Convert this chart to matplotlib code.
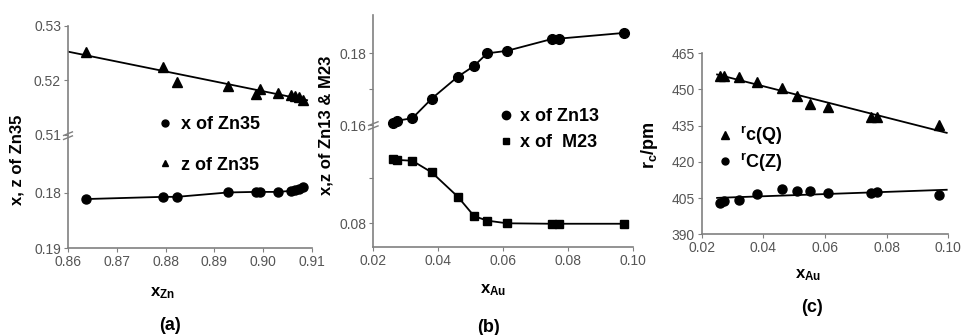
#
# Zn-Au structure parameters vs composition: three panels (a), (b), (c)
#
import numpy as np
import matplotlib
matplotlib.use('Agg')
import matplotlib.pyplot as plt
from matplotlib.lines import Line2D

# ---- data ----
# panel (a)
x_zn = [0.8637, 0.8795, 0.8823, 0.8928, 0.8985, 0.8993, 0.9031, 0.9058, 0.9065, 0.9073, 0.9082]
x_zn35 = [0.1789, 0.1793, 0.1793, 0.1801, 0.1802, 0.1802, 0.1802, 0.1804, 0.1805, 0.1807, 0.1811]
z_zn35 = [0.5252, 0.5224, 0.5198, 0.5190, 0.5176, 0.5184, 0.5177, 0.5173, 0.5171, 0.5169, 0.5165]

# panels (b) and (c)
x_au = [0.0260, 0.0272, 0.0320, 0.0380, 0.0460, 0.0510, 0.0550, 0.0611, 0.0749, 0.0770, 0.0971]
x_zn13 = [0.1605, 0.1612, 0.1619, 0.1674, 0.1735, 0.1765, 0.1800, 0.1807, 0.1840, 0.1841, 0.1857]
x_m23 = [0.0944, 0.0941, 0.0939, 0.0913, 0.0859, 0.0816, 0.0806, 0.0800, 0.0799, 0.0799, 0.0799]
rc_q = [455.6, 455.6, 455.3, 453.3, 450.8, 447.5, 443.9, 442.9, 438.8, 438.8, 435.3]
rc_z = [402.8, 403.8, 404.1, 406.6, 408.6, 408.1, 408.1, 407.0, 407.3, 407.4, 406.2]

ticks_a = [0.17, 0.18, 0.51, 0.52, 0.53]
ticklabels_a = ['0.19', '0.18', '0.51', '0.52', '0.53']
ticks_b = [0.08, 0.09, 0.16, 0.17, 0.18]
ticklabels_b = ['0.08', '', '0.16', '', '0.18']

# fonts
plt.rcParams['font.family'] = ['Liberation Sans', 'DejaVu Sans']
plt.rcParams['mathtext.fontset'] = 'custom'
plt.rcParams['mathtext.rm'] = 'Liberation Sans'
plt.rcParams['mathtext.bf'] = 'Liberation Sans:bold'
plt.rcParams['mathtext.it'] = 'Liberation Sans:italic'
LAB = dict(family=['Liberation Sans', 'DejaVu Sans'], fontweight='bold')
LEG = dict(family='Liberation Sans', weight='bold', size=13)
GREY = '#808080'


# broken y axes: piecewise linear scales
def fwd_a(v):
    v = np.asarray(v, float)
    return np.where(v < 0.35, (v - 0.17) * 5500, 113 + (v - 0.51) * 5450)


def inv_a(p):
    p = np.asarray(p, float)
    return np.where(p < 113, 0.17 + p / 5500, 0.51 + (p - 113) / 5450)


def fwd_b(v):
    v = np.asarray(v, float)
    return np.where(v < 0.13, 23.4 + (v - 0.08) * 4500, 121.7 + (v - 0.16) * 3585)


def inv_b(p):
    p = np.asarray(p, float)
    return np.where(p < 121.7, 0.08 + (p - 23.4) / 4500, 0.16 + (p - 121.7) / 3585)


fig = plt.figure(figsize=(9.62, 3.35), dpi=100)
axa = fig.add_axes([0.0707, 0.2597, 0.2536, 0.6627])
axb = fig.add_axes([0.3881, 0.2636, 0.2703, 0.6916])
axc = fig.add_axes([0.7294, 0.3006, 0.2563, 0.5403])

for ax in [axa, axb, axc]:
    for s in ['top', 'right']:
        ax.spines[s].set_visible(False)
    for s in ['left', 'bottom']:
        ax.spines[s].set_color(GREY)
        ax.spines[s].set_linewidth(1.2)
    ax.tick_params(direction='out', length=3, color=GREY, labelsize=10,
                   labelcolor='#555555', pad=2)


def break_mark(ax, yfrac):
    for dy in [-0.012, 0.006]:
        ax.plot([-0.018, 0.018], [yfrac + dy - 0.008, yfrac + dy + 0.008],
                color=GREY, lw=1.0, transform=ax.transAxes, clip_on=False)


# ---- (a) ----
axa.set_yscale('function', functions=(fwd_a, inv_a))
axa.set_ylim(0.17, 0.53)
axa.set_xlim(0.86, 0.91)
axa.plot(x_zn, x_zn35, 'k-', marker='o', ms=6.5, lw=1.3)
axa.plot(x_zn, z_zn35, 'k^', ms=7)
pa = np.polyfit(x_zn, z_zn35, 1)
xa_fit = np.array([0.86, 0.909])
axa.plot(xa_fit, np.polyval(pa, xa_fit), 'k-', lw=1.3)
axa.set_yticks(ticks_a)
axa.set_yticklabels(ticklabels_a)
axa.set_xticks([0.86, 0.87, 0.88, 0.89, 0.90, 0.91])
axa.set_xticklabels(['0.86', '0.87', '0.88', '0.89', '0.90', '0.91'])
break_mark(axa, 113 / 222)
axa.legend([Line2D([], [], marker='o', ls='', color='k', ms=5),
            Line2D([], [], marker='^', ls='', color='k', ms=5)],
           ['x of Zn35', 'z of Zn35'], loc='center left',
           bbox_to_anchor=(0.30, 0.465), frameon=False, handlelength=0.8,
           handletextpad=0.5, labelspacing=1.3, prop=LEG)

# ---- (b) ----
axb.set_yscale('function', functions=(fwd_b, inv_b))
axb.set_ylim(0.0748, 0.1907)
axb.set_xlim(0.02, 0.10)
axb.plot(x_au, x_zn13, 'k-', marker='o', ms=7, lw=1.3)
axb.plot(x_au, x_m23, 'k-', marker='s', ms=6, lw=1.3)
axb.set_yticks(ticks_b)
axb.set_yticklabels(ticklabels_b)
axb.set_xticks([0.02, 0.04, 0.06, 0.08, 0.10])
axb.set_xticklabels(['0.02', '0.04', '0.06', '0.08', '0.10'])
break_mark(axb, 121.7 / 231.7)
axb.legend([Line2D([], [], marker='o', ls='', color='k', ms=6),
            Line2D([], [], marker='s', ls='', color='k', ms=5)],
           ['x of Zn13', 'x of  M23'], loc='center left',
           bbox_to_anchor=(0.42, 0.505), frameon=False, handlelength=0.8,
           handletextpad=0.4, labelspacing=0.5, prop=LEG)

# ---- (c) ----
axc.set_ylim(390, 465)
axc.set_xlim(0.02, 0.10)
axc.plot(x_au, rc_q, 'k^', ms=7)
axc.plot(x_au, rc_z, 'ko', ms=6.5)
xc_fit = np.array([0.025, 0.0995])
axc.plot(xc_fit, np.polyval(np.polyfit(x_au, rc_q, 1), xc_fit), 'k-', lw=1.3)
axc.plot(xc_fit, np.polyval(np.polyfit(x_au, rc_z, 1), xc_fit), 'k-', lw=1.3)
axc.set_yticks([390, 405, 420, 435, 450, 465])
axc.set_xticks([0.02, 0.04, 0.06, 0.08, 0.10])
axc.set_xticklabels(['0.02', '0.04', '0.06', '0.08', '0.10'])
axc.legend([Line2D([], [], marker='^', ls='', color='k', ms=6),
            Line2D([], [], marker='o', ls='', color='k', ms=5)],
           [r'$\mathbf{^r c(Q)}$', r'$\mathbf{^r C(Z)}$'], loc='center left',
           bbox_to_anchor=(0.0, 0.47), frameon=False, handlelength=0.8,
           handletextpad=0.4, labelspacing=0.2, prop=LEG)

# ---- axis titles and panel tags ----
W, H = 962.0, 335.0
fig.text(17 / W, 1 - 160 / H, 'x, z of Zn35', rotation=90, ha='center', va='center', size=12, **LAB)
fig.text(326 / W, 1 - 125 / H, 'x,z of Zn13 & M23', rotation=90, ha='center', va='center', size=12, **LAB)
fig.text(650 / W, 1 - 145 / H, r'$\mathbf{r_c/pm}$', rotation=90, ha='center', va='center', size=13, **LAB)

fig.text(162 / W, 1 - 293 / H, r'$\mathbf{x_{Zn}}$', ha='center', va='center', size=12, **LAB)
fig.text(493 / W, 1 - 290 / H, r'$\mathbf{x_{Au}}$', ha='center', va='center', size=12, **LAB)
fig.text(808 / W, 1 - 275 / H, r'$\mathbf{x_{Au}}$', ha='center', va='center', size=12, **LAB)

fig.text(170 / W, 1 - 325 / H, '(a)', ha='center', va='center', size=13, **LAB)
fig.text(489 / W, 1 - 327 / H, '(b)', ha='center', va='center', size=13, **LAB)
fig.text(812 / W, 1 - 308 / H, '(c)', ha='center', va='center', size=13, **LAB)

plt.savefig('out.png', dpi=100)
plt.close()
